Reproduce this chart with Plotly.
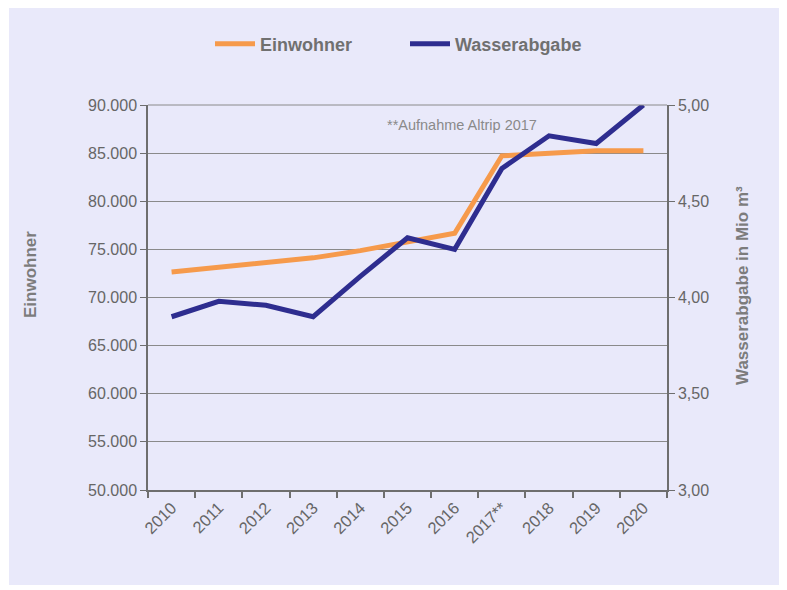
import plotly.graph_objects as go

years = ["2010", "2011", "2012", "2013", "2014", "2015", "2016", "2017**", "2018", "2019", "2020"]
einwohner = [72660, 73170, 73630, 74120, 74870, 75800, 76680, 84720, 85000, 85240, 85240]
wasserabgabe = [3.90, 3.98, 3.96, 3.90, 4.11, 4.31, 4.25, 4.67, 4.84, 4.80, 5.00]

ORANGE = "#F69A4B"
BLUE = "#2E2D8F"
TXT = "#666666"
TITLE = "#7c7c7c"
GRID = "#8a8a8a"
AXIS = "#6e6e6e"
FONT = "Liberation Sans, Arial, sans-serif"

# page has an 8px body margin; work in page coordinates and shift
OFF = 8
W, H = 787 - OFF, 590 - OFF
L, R, T, B = 148 - OFF, 667 - OFF, 105 - OFF, 490 - OFF
pw, ph = R - L, B - T

def px(x):
    return (x - OFF - L) / pw

def py(y):
    return (B - (y - OFF)) / ph

fig = go.Figure()
fig.add_trace(go.Scatter(x=years, y=einwohner, name="Einwohner", mode="lines",
                         line=dict(color=ORANGE, width=5), yaxis="y"))
fig.add_trace(go.Scatter(x=years, y=wasserabgabe, name="Wasserabgabe", mode="lines",
                         line=dict(color=BLUE, width=5), yaxis="y2"))

fig.update_layout(
    width=W, height=H,
    margin=dict(l=L, r=W - R, t=T, b=H - B, autoexpand=False),
    paper_bgcolor="white",
    plot_bgcolor="rgba(0,0,0,0)",
    separators=",.",
    font=dict(family=FONT, color=TXT, size=16),
    showlegend=True,
    legend=dict(orientation="h", x=px(210), xanchor="left", y=py(44), yanchor="middle",
                font=dict(family=FONT, size=18, color="#707070", weight="bold"),
                bgcolor="rgba(0,0,0,0)", itemwidth=40, tracegroupgap=0,
                entrywidth=140, entrywidthmode="pixels"),
    xaxis=dict(type="category", range=[-0.5, 10.5], tickson="boundaries",
               ticks="outside", ticklen=6, tickcolor=AXIS, tickwidth=1.5,
               showline=True, linecolor=AXIS, linewidth=1.5, mirror=False,
               showgrid=False, tickangle=-45, tickfont=dict(size=16.5, color=TXT)),
    yaxis=dict(range=[50000, 90000], dtick=5000, tickformat=",.0f",
               ticks="outside", ticklen=6, tickcolor=AXIS,
               showline=True, linecolor=AXIS, linewidth=1.5,
               showgrid=True, gridcolor=GRID, gridwidth=1, zeroline=False,
               tickfont=dict(size=16, color=TXT)),
    yaxis2=dict(range=[3, 5], dtick=0.5, tickformat=".2f", overlaying="y", side="right",
                ticks="outside", ticklen=6, tickcolor=AXIS,
                showline=True, linecolor=AXIS, linewidth=1.5,
                showgrid=False, zeroline=False,
                tickfont=dict(size=16, color=TXT)),
)

# lavender background panel
fig.add_shape(type="rect", xref="paper", yref="paper", layer="below",
              x0=px(9), x1=px(782), y0=py(585), y1=py(6),
              fillcolor="#E9E9FA", line=dict(width=0))
# top border line of the plot area (gridline at 90.000)
fig.add_shape(type="line", xref="paper", yref="paper", x0=0, x1=1, y0=1, y1=1,
              line=dict(color=GRID, width=1))

fig.add_annotation(text="Einwohner", xref="paper", yref="paper", x=px(30), y=py(275),
                   textangle=-90, showarrow=False, xanchor="center", yanchor="middle",
                   font=dict(family=FONT, size=17, color=TITLE, weight="bold"))
fig.add_annotation(text="Wasserabgabe in Mio m³", xref="paper", yref="paper", x=px(742), y=py(286),
                   textangle=-90, showarrow=False, xanchor="center", yanchor="middle",
                   font=dict(family=FONT, size=17, color=TITLE, weight="bold"))
fig.add_annotation(text="**Aufnahme Altrip 2017", xref="paper", yref="paper", x=px(462), y=py(125),
                   showarrow=False, xanchor="center", yanchor="middle",
                   font=dict(family=FONT, size=14.5, color="#8a8a8a"))

fig.write_html("out.html")
